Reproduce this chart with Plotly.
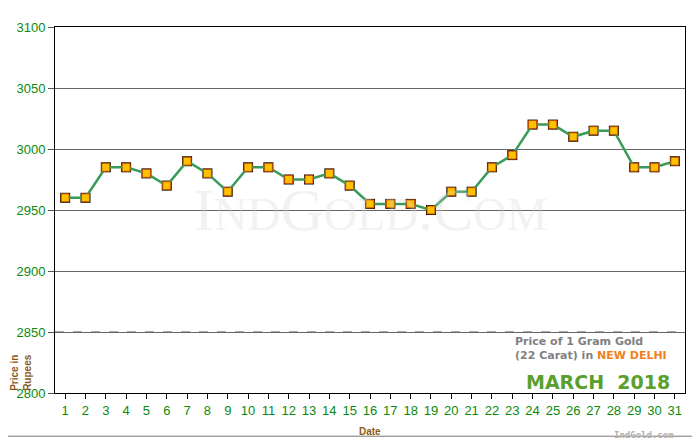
import plotly.graph_objects as go

days = list(range(1, 32))
prices = [2960, 2960, 2985, 2985, 2980, 2970, 2990, 2980, 2965, 2985,
          2985, 2975, 2975, 2980, 2970, 2955, 2955, 2955, 2950, 2965,
          2965, 2985, 2995, 3020, 3020, 3010, 3015, 3015, 2985, 2985, 2990]

fig = go.Figure()
# shadow-ish black squares behind the markers
fig.add_scatter(x=days, y=prices, mode='markers', hoverinfo='skip',
                marker=dict(symbol='square', size=10, color='black'), showlegend=False)
fig.add_scatter(x=days, y=prices, mode='lines+markers', showlegend=False,
                line=dict(color='#3a9a5a', width=2.5),
                marker=dict(symbol='square', size=8, color='#ffc000',
                            line=dict(color='#c05000', width=1)))

fig.add_annotation(text='I<span style="font-size:46px">ND</span>G<span style="font-size:46px">OLD</span>.C<span style="font-size:46px">OM</span>',
                   x=0.5, y=0.5, xref='paper', yref='paper', showarrow=False,
                   font=dict(family='Liberation Serif', size=60, color='rgba(210,210,210,0.3)'))
fig.add_annotation(text='<b>Price of 1 Gram Gold</b><br><b>(22 Carat) in <span style="color:#f08020">NEW DELHI</span></b>',
                   x=0.975, y=0.165, xref='paper', yref='paper', xanchor='right', yanchor='top',
                   showarrow=False, align='left',
                   font=dict(family='DejaVu Sans', size=11, color='#808080'))
fig.add_annotation(text='<b>MARCH  2018</b>', x=0.98, y=-0.005, xref='paper', yref='paper',
                   xanchor='right', yanchor='bottom', showarrow=False,
                   font=dict(family='DejaVu Sans', size=19, color='#5aa02c'))
fig.add_annotation(text='<b>IndGold.com</b>', x=0.985, y=-0.095, xref='paper', yref='paper',
                   xanchor='right', yanchor='top', showarrow=False,
                   font=dict(family='DejaVu Sans Mono', size=9, color='#b0b0b0'))
fig.add_annotation(text='<b>Price in<br>Rupees</b>', x=-0.055, y=0.0, xref='paper', yref='paper',
                   textangle=-90, xanchor='center', yanchor='bottom', showarrow=False,
                   font=dict(family='Liberation Sans', size=10, color='#8b5a1a'))
fig.add_annotation(text='<b>Date</b>', x=0.5, y=-0.085, xref='paper', yref='paper',
                   yanchor='top', showarrow=False,
                   font=dict(family='Liberation Sans', size=10, color='#8b5a1a'))
fig.add_shape(type='line', xref='paper', yref='y', x0=0, x1=1, y0=2850, y1=2850,
              line=dict(color='#555555', width=1, dash='dash'), layer='below')
fig.add_shape(type='rect', xref='paper', yref='paper', x0=-0.0825, x1=1.019, y0=-0.118, y1=1.066,
              line=dict(color='#777777', width=1))

fig.update_xaxes(range=[0.5, 31.5], tickmode='array', tickvals=days, ticks='outside',
                 ticklen=5, tickcolor='black', showgrid=False, showline=True,
                 linecolor='black', mirror=True, zeroline=False,
                 tickfont=dict(family='Liberation Sans', size=13, color='#0a8a0a'))
fig.update_yaxes(range=[2800, 3100], dtick=50, ticks='outside', ticklen=6, tickcolor='#555555',
                 showgrid=True, gridcolor='#666666', gridwidth=1, showline=True,
                 linecolor='black', mirror=True, zeroline=False,
                 tickfont=dict(family='Liberation Sans', size=13, color='#0a8a0a'))
fig.update_layout(width=692, height=432,
                  margin=dict(l=47, r=15, t=19, b=47, autoexpand=False),
                  paper_bgcolor='white', plot_bgcolor='white')

fig.write_html('out.html')
